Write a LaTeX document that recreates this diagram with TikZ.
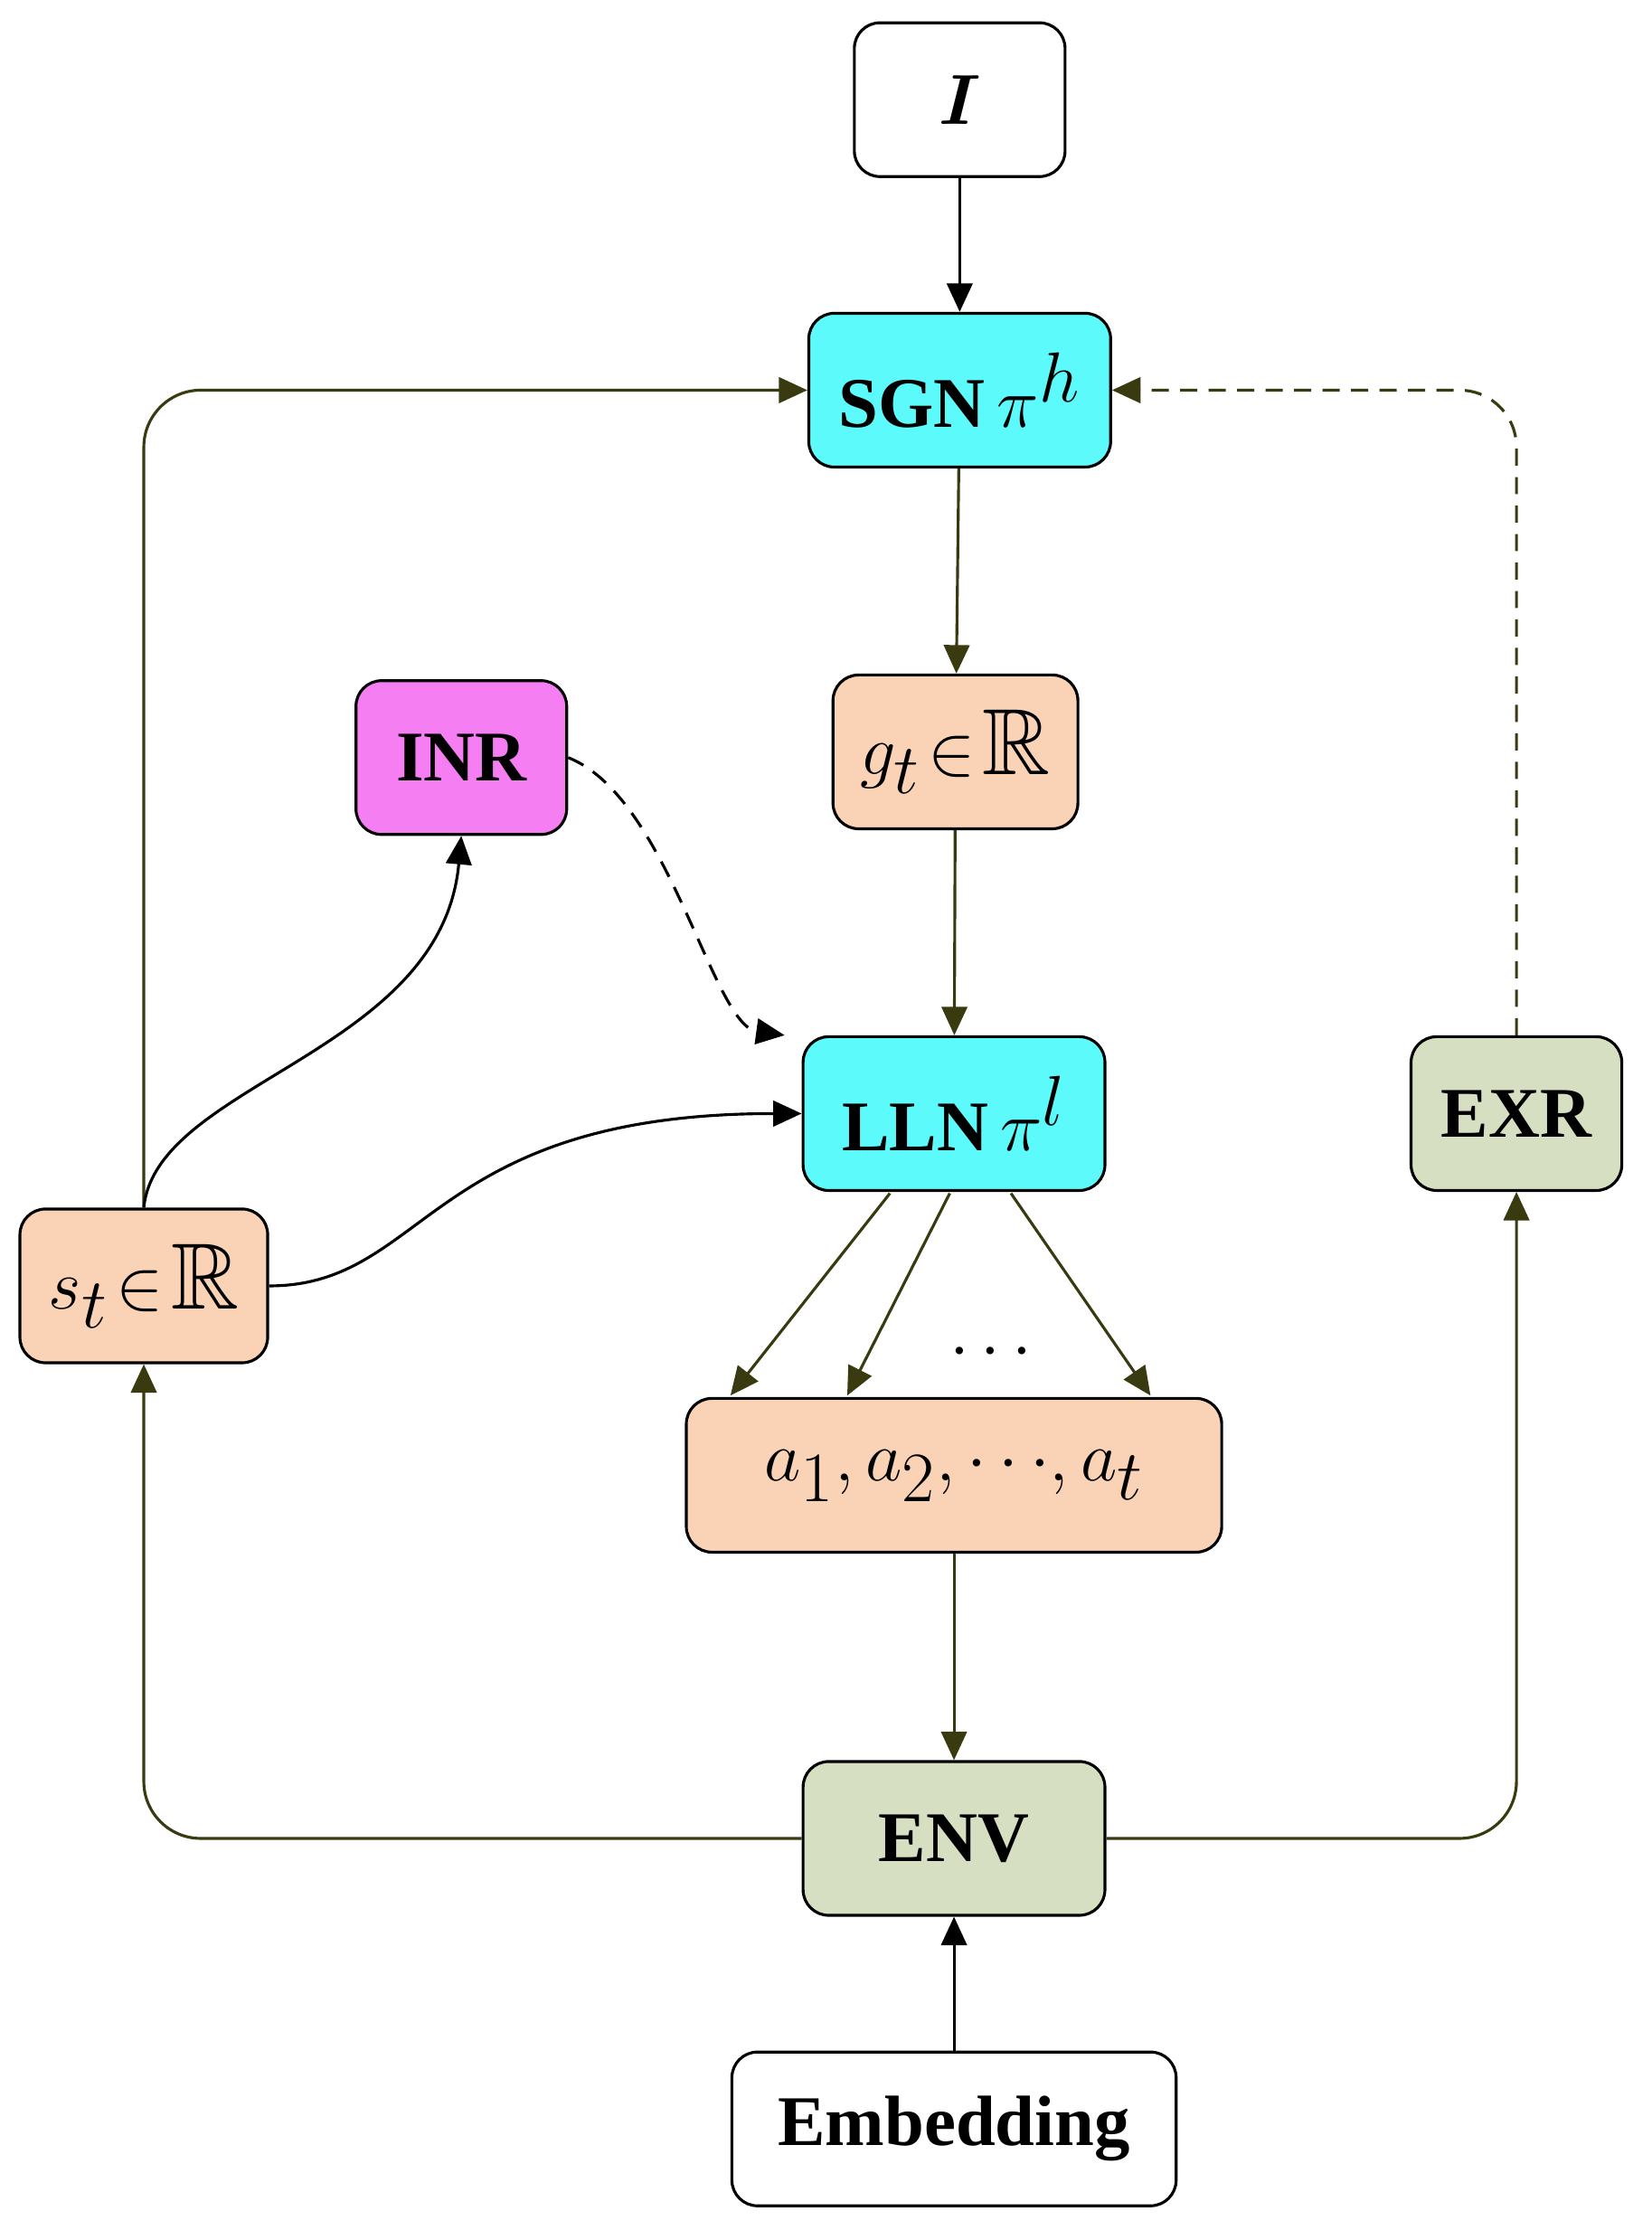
\documentclass[tikz,border=0pt]{standalone}
\usepackage{amsmath,amssymb,bm}
\usepackage{fontspec}
\setmainfont{Liberation Serif}
\usetikzlibrary{arrows.meta}
\definecolor{cy}{HTML}{5CFAFA}
\definecolor{pe}{HTML}{FAD3B6}
\definecolor{mg}{HTML}{F57EF3}
\definecolor{gr}{HTML}{D6DFC2}
\definecolor{ol}{HTML}{3A3A10}
\begin{document}
\begin{tikzpicture}[x=0.5pt,y=-0.5pt,
 box/.style={draw=black,line width=1pt,rounded corners=9pt,minimum height=54pt,inner sep=0pt},
 lab/.style={font=\fontsize{25}{27}\selectfont\bfseries},
 mth/.style={font=\fontsize{33}{35}\selectfont},
 ar/.style={-{Triangle[length=10pt,width=9pt]},line width=1pt},
 oa/.style={ar,draw=ol},
 ba/.style={ar,draw=black},
 dsh/.style={dash pattern=on 6pt off 4pt}]
\useasboundingbox (0,0) rectangle (1160,1566);
\node[box,fill=white,minimum width=74pt,lab] (I) at (674,70) {$\bm{I}$};
\node[box,fill=cy,minimum width=106pt,lab] (sgn) at (674,274) {SGN\,{\fontsize{36}{36}\selectfont$\pi^{h}$}};
\node[box,fill=pe,minimum width=86pt,mth] (g) at (671,528) {$g_t\!\in\!\mathbb{R}$};
\node[box,fill=mg,minimum width=74pt,lab] (inr) at (324,532) {INR};
\node[box,fill=cy,minimum width=106pt,lab] (lln) at (670,782) {LLN\,{\fontsize{36}{36}\selectfont$\pi^{l}$}};
\node[box,fill=gr,minimum width=74pt,lab] (exr) at (1065,782) {EXR};
\node[box,fill=pe,minimum width=87pt,mth] (s) at (101,903) {$s_t\!\in\!\mathbb{R}$};
\node[box,fill=pe,minimum width=188pt,mth] (a) at (670,1036) {$a_1,a_2,\cdots\!,a_t$};
\node[box,fill=gr,minimum width=106pt,lab] (env) at (670,1291) {ENV};
\node[box,fill=white,minimum width=156pt,lab] (emb) at (670,1495) {Embedding};
\node[font=\fontsize{30}{30}\selectfont\bfseries] (dots) at (700,950) {$\cdots$};
\coordinate (sc) at (101,274);
\coordinate (ec) at (1065,274);
\coordinate (el) at (101,1291);
\coordinate (er) at (1065,1291);
\draw[ba] (I) -- (sgn);
\draw[oa] (sgn) -- (g);
\draw[oa] (g) -- (lln);
\draw[oa,rounded corners=20pt] (s.north) -- (sc) -- (sgn.west);
\draw[oa,dsh,rounded corners=20pt] (exr.north) -- (ec) -- (sgn.east);
\draw[ba,dsh] (inr.east) .. controls (470,560) and (500,720) .. ([xshift=-6pt]lln.north west);
\draw[ba] (s.north) .. controls (110,760) and (310,740) .. (inr.south);
\draw[ba] (s.east) .. controls (300,903) and (300,782) .. (lln.west);
\draw[oa] (625,838) -- (513,980);
\draw[oa] (667,838) -- (595,980);
\draw[oa] (710,838) -- (808,980);
\draw[oa] (a) -- (env);
\draw[oa,rounded corners=20pt] (env.west) -- (el) -- (s.south);
\draw[oa,rounded corners=20pt] (env.east) -- (er) -- (exr.south);
\draw[ba] (emb) -- (env);
\end{tikzpicture}
\end{document}
